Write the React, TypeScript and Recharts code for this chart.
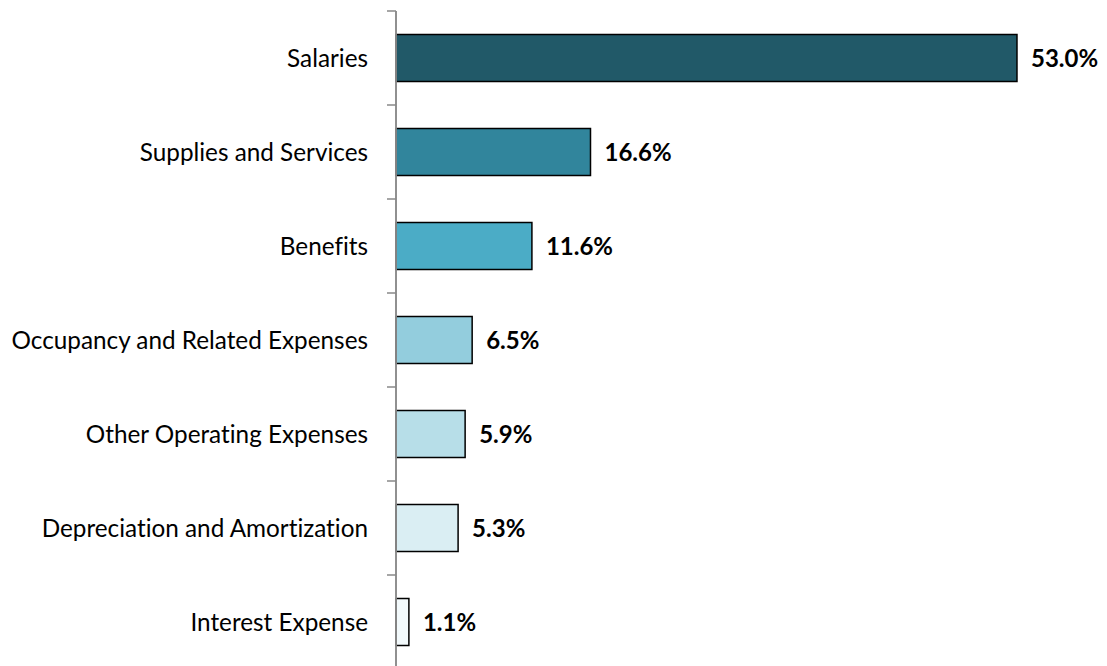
import { BarChart, Bar, XAxis, YAxis, Cell, LabelList, ReferenceLine } from 'recharts';

const categories = [
  'Salaries',
  'Supplies and Services',
  'Benefits',
  'Occupancy and Related Expenses',
  'Other Operating Expenses',
  'Depreciation and Amortization',
  'Interest Expense',
];
const shares = [53.0, 16.6, 11.6, 6.5, 5.9, 5.3, 1.1];
const barColors = ['#215968', '#31859C', '#4BACC6', '#93CDDD', '#B7DEE8', '#DAEEF3', '#F2F9FB'];

const data = categories.map((name, i) => ({ name, value: shares[i] }));

const FONT = 'Lato, "Open Sans", sans-serif';
const BAND = 94;

function CategoryTick({ x, y, payload }: { x?: number; y?: number; payload?: { value: string } }) {
  const px = x ?? 0;
  const py = y ?? 0;
  return (
    <g>
      <line x1={px - 1} x2={px + 8} y1={py - BAND / 2} y2={py - BAND / 2} stroke="#898989" strokeWidth={1.5} />
      <text
        x={px - 20}
        y={py}
        dy="0.35em"
        textAnchor="end"
        fill="#000"
        fontSize={24.3}
        fontFamily={FONT}
        style={{ fontVariantLigatures: 'none' }}
      >
        {payload?.value}
      </text>
    </g>
  );
}

export default function App() {
  return (
    <div style={{ position: 'absolute', left: 0, top: 0, width: 1107, height: 666, overflow: 'hidden', background: '#fff' }}>
      <BarChart
        width={1107}
        height={670}
        data={data}
        layout="vertical"
        margin={{ top: 11, right: 8, bottom: 1, left: 0 }}
        barCategoryGap="25%"
      >
        <XAxis type="number" domain={[0, 60]} hide />
        <YAxis
          type="category"
          dataKey="name"
          width={396}
          axisLine={{ stroke: '#898989', strokeWidth: 1.5 }}
          tickLine={false}
          tick={<CategoryTick />}
          interval={0}
        />
        <Bar dataKey="value" stroke="#000" strokeWidth={1.5} isAnimationActive={false}>
          {data.map((d, i) => (
            <Cell key={d.name} fill={barColors[i]} />
          ))}
          <LabelList
            dataKey="value"
            position="right"
            offset={14}
            formatter={(v: number) => `${v.toFixed(1)}%`}
            style={{ fontFamily: FONT, fontSize: 24, fontWeight: 700, fill: '#000' }}
          />
        </Bar>
        <ReferenceLine x={0} stroke="#898989" strokeWidth={1.5} />
      </BarChart>
    </div>
  );
}
